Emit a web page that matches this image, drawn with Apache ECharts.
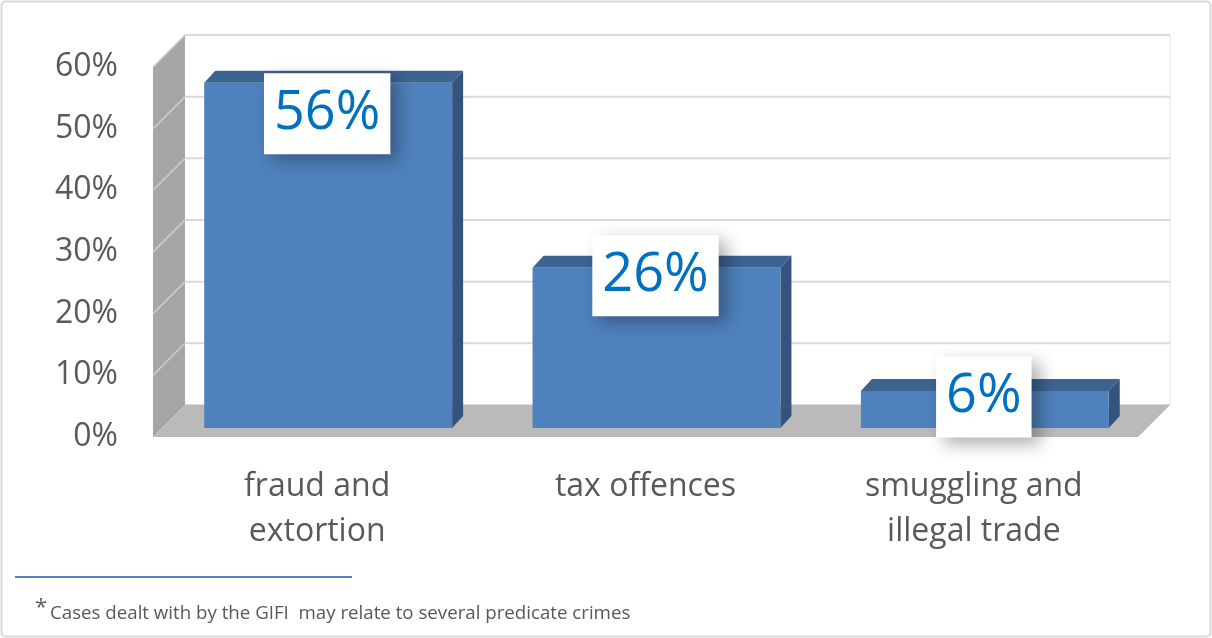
<!DOCTYPE html>
<html>
<head>
<meta charset="utf-8">
<script src="https://cdn.jsdelivr.net/npm/echarts@6/dist/echarts.min.js"></script>
<style>
  html, body { margin: 0; padding: 0; background: #ffffff; }
  #chart { width: 1212px; height: 638px; }
</style>
</head>
<body>
<div id="chart"></div>
<script>
// Predicate crimes in cases dealt with by the GIFI (share of cases)
const categories = ['fraud and\nextortion', 'tax offences', 'smuggling and\nillegal trade'];
const shares = [0.56, 0.26, 0.06];
const yTicks = [0, 0.1, 0.2, 0.3, 0.4, 0.5, 0.6];
const footnote = 'Cases dealt with by the GIFI  may relate to several predicate crimes';

// Pseudo-3D geometry (pixel offsets from the front plane)
const DEPTH = [32, -32];      // back wall
const BAR_FRONT = [11, -9];   // front face of each column
const BAR_BACK = [22, -21];   // back face of each column
const BAR_RATIO = 0.755;      // column width as share of the category band
const labelNudge = [31, 8, 6];

const FONT = '"Open Sans", "Liberation Sans", sans-serif';
const GREY_TEXT = '#595959';
const pct = v => Math.round(v * 100) + '%';

const chart = echarts.init(document.getElementById('chart'), null, { renderer: 'canvas' });

// Back wall, side wall, floor and their gridlines
function renderScene(params, api) {
  const band = api.size([1, 0])[0];
  const n = categories.length;
  const left = api.coord([0, 0])[0] - band / 2;
  const right = api.coord([n - 1, 0])[0] + band / 2;
  const y0 = api.coord([0, 0])[1];
  const yTop = api.coord([0, yTicks[yTicks.length - 1]])[1];
  const [dx, dy] = DEPTH;
  const children = [];

  children.push({
    type: 'line',
    shape: { x1: right + dx, y1: yTop + dy, x2: right + dx, y2: y0 + dy },
    style: { stroke: '#EDEDED', lineWidth: 1.5 }
  });
  yTicks.forEach(t => {
    const y = api.coord([0, t])[1];
    children.push({
      type: 'line',
      shape: { x1: left + dx, y1: y + dy, x2: right + dx, y2: y + dy },
      style: { stroke: '#D9D9D9', lineWidth: 2 }
    });
  });
  children.push({
    type: 'polygon',
    shape: { points: [[left, y0], [left, yTop], [left + dx, yTop + dy], [left + dx, y0 + dy]] },
    style: { fill: '#A6A6A6' }
  });
  yTicks.forEach(t => {
    if (t === 0) return;
    const y = api.coord([0, t])[1];
    children.push({
      type: 'line',
      shape: { x1: left, y1: y, x2: left + dx, y2: y + dy },
      style: { stroke: '#D0D0D0', lineWidth: 1.5 }
    });
  });
  children.push({
    type: 'polygon',
    shape: { points: [[left, y0], [left + dx, y0 + dy], [right + dx, y0 + dy], [right, y0]] },
    style: { fill: '#BABABA' }
  });
  return { type: 'group', children };
}

// One 3D column plus its boxed value label
function renderColumn(params, api) {
  const ci = api.value(0);
  const v = api.value(1);
  const base = api.coord([ci, 0]);
  const top = api.coord([ci, v]);
  const band = api.size([1, 0])[0];
  const w = band * BAR_RATIO;
  const fx = base[0] - w / 2 + BAR_FRONT[0];
  const by = base[1] + BAR_FRONT[1];
  const ty = top[1] + BAR_FRONT[1];
  const bdx = BAR_BACK[0] - BAR_FRONT[0];
  const bdy = BAR_BACK[1] - BAR_FRONT[1];

  return {
    type: 'group',
    children: [
      {
        type: 'polygon',
        shape: { points: [[fx, ty], [fx + bdx, ty + bdy], [fx + w + bdx, ty + bdy], [fx + w, ty]] },
        style: { fill: '#3D6391' }
      },
      {
        type: 'polygon',
        shape: { points: [[fx + w, ty], [fx + w + bdx, ty + bdy], [fx + w + bdx, by + bdy], [fx + w, by]] },
        style: { fill: '#34547E' }
      },
      {
        type: 'rect',
        shape: { x: fx, y: ty, width: w, height: by - ty },
        style: { fill: '#4F81BD' }
      },
      {
        type: 'text',
        x: fx + w / 2 - 1,
        y: ty + labelNudge[params.dataIndex],
        style: {
          text: pct(v),
          font: '54px ' + FONT,
          fill: '#0070C0',
          align: 'center',
          verticalAlign: 'middle',
          lineHeight: 61,
          backgroundColor: '#ffffff',
          padding: [10, 10, 10, 10],
          shadowBlur: 16,
          shadowColor: 'rgba(0,0,0,0.32)',
          shadowOffsetX: 8,
          shadowOffsetY: 6
        }
      }
    ]
  };
}

chart.setOption({
  animation: false,
  backgroundColor: '#ffffff',
  grid: { left: 153, right: 74, top: 67, bottom: 201, containLabel: false, outerBoundsMode: 'none' },
  xAxis: {
    type: 'category',
    data: categories,
    axisLine: { show: false },
    axisTick: { show: false },
    splitLine: { show: false },
    axisLabel: {
      color: GREY_TEXT,
      fontFamily: FONT,
      fontSize: 32,
      lineHeight: 45,
      margin: 27,
      interval: 0
    }
  },
  yAxis: {
    type: 'value',
    min: yTicks[0],
    max: yTicks[yTicks.length - 1],
    interval: 0.1,
    axisLine: { show: false },
    axisTick: { show: false },
    splitLine: { show: false },
    axisLabel: {
      color: GREY_TEXT,
      fontFamily: FONT,
      fontSize: 32,
      margin: 35,
      formatter: pct
    }
  },
  series: [
    {
      type: 'custom',
      renderItem: renderScene,
      data: [[0, 0]],
      silent: true,
      z: 1
    },
    {
      type: 'custom',
      renderItem: renderColumn,
      data: shares.map((v, i) => [i, v]),
      z: 2
    }
  ],
  graphic: [
    {
      type: 'rect',
      shape: { x: 1.5, y: 1.5, width: 1209, height: 635, r: 4 },
      style: { fill: 'none', stroke: '#D9D9D9', lineWidth: 2 },
      z: 0
    },
    {
      type: 'line',
      shape: { x1: 15, y1: 577, x2: 352, y2: 577 },
      style: { stroke: '#4F81BD', lineWidth: 2 }
    },
    {
      type: 'text',
      x: 35,
      y: 608,
      style: { text: '*', font: '22px ' + FONT, fill: GREY_TEXT, verticalAlign: 'middle' }
    },
    {
      type: 'text',
      x: 50,
      y: 614,
      style: { text: footnote, font: '18.7px ' + FONT, fill: GREY_TEXT, verticalAlign: 'middle' }
    }
  ]
});
</script>
</body>
</html>
